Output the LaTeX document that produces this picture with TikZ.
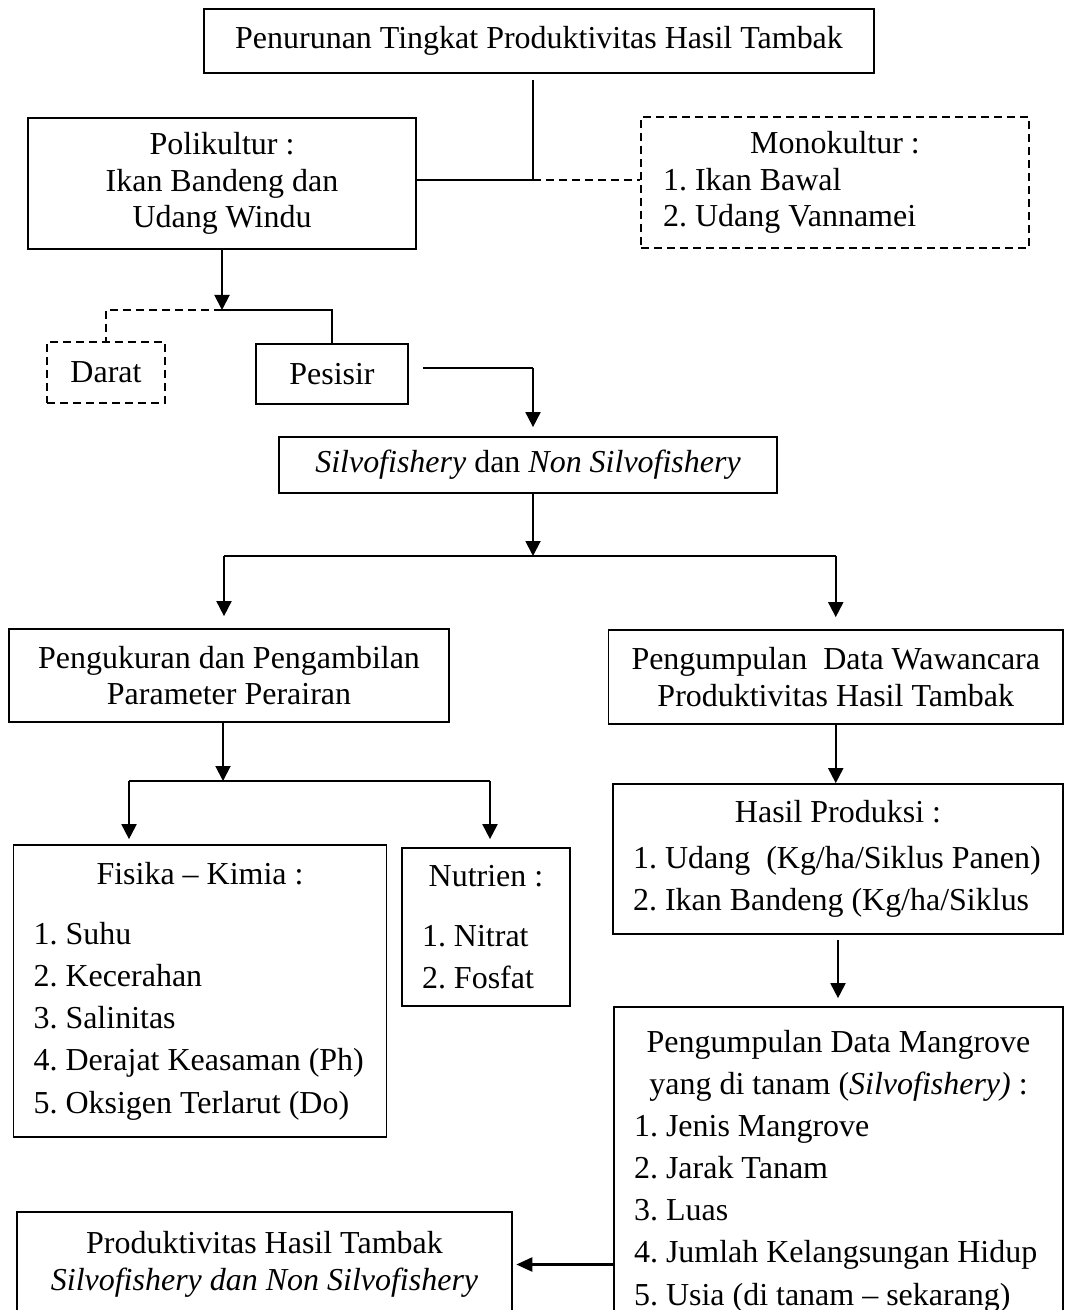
\documentclass[tikz,border=0pt]{standalone}
\usepackage{fontspec}
\setmainfont{Liberation Serif}
\usetikzlibrary{arrows.meta}
\setlength{\parindent}{0pt}
\setlength{\parskip}{0pt}
\frenchspacing

\begin{document}
\begin{tikzpicture}[
  x=0.02cm, y=-0.02cm,
  box/.style={rectangle,draw=black,line width=1pt,inner sep=0pt,align=center,font=\fontsize{18.2pt}{20.8pt}\selectfont},
  dbox/.style={box,dash pattern=on 0.16cm off 0.1cm},
  listbox/.style={box,inner xsep=0.4cm,align=flush left,font=\fontsize{18.2pt}{24pt}\selectfont},
  link/.style={line width=0.6pt},
  dlink/.style={link,dash pattern=on 0.16cm off 0.1cm},
  arrow/.style={line width=1.1pt,-{Triangle[length=0.3cm,width=0.3cm]}},
  bigarrow/.style={line width=1.4pt,-{Triangle[length=0.32cm,width=0.28cm]}}
]
  \clip (0,0) rectangle (1064,1310);

  \node[box,minimum width=13.4cm,minimum height=1.28cm] (turun) at (539,41) {Penurunan Tingkat Produktivitas Hasil Tambak};
  \node[box,minimum width=7.76cm,minimum height=2.62cm] (poli) at (222,183.5) {Polikultur :\\Ikan Bandeng dan\\Udang Windu};
  \node[dbox,inner xsep=0.44cm,text width=6.88cm,align=flush left,minimum height=2.62cm] (mono) at (835,182.5) {{\centering Monokultur :\par}1. Ikan Bawal\\2. Udang Vannamei};
  \node[dbox,minimum width=2.36cm,minimum height=1.22cm] (darat) at (106,372.5) {Darat};
  \node[box,minimum width=3.04cm,minimum height=1.2cm] (pesisir) at (332,374) {Pesisir};
  \node[box,minimum width=9.96cm,minimum height=1.12cm] (silvo) at (528,465) {\textit{Silvofishery} dan \textit{Non Silvofishery}};
  \node[box,minimum width=8.8cm,minimum height=1.86cm] (ukur) at (229,675.5) {Pengukuran dan Pengambilan\\Parameter Perairan};
  \node[box,minimum width=9.09cm,minimum height=1.88cm] (kumpul) at (835.75,677) {Pengumpulan\ \ Data Wawancara\\Produktivitas Hasil Tambak};
  \node[listbox,text width=8.2cm,minimum height=3cm] (hasil) at (838,859) {{\centering Hasil Produksi :\par}\vspace{0.06cm}1. Udang\ \ (Kg/ha/Siklus Panen)\\2. Ikan Bandeng (Kg/ha/Siklus};
  \node[listbox,text width=6.66cm,minimum height=5.84cm] (fisika) at (200,991) {{\centering Fisika -- Kimia :\par}\vspace{0.36cm}1. Suhu\\2. Kecerahan\\3. Salinitas\\4. Derajat Keasaman (Ph)\\5. Oksigen Terlarut (Do)};
  \node[listbox,text width=2.56cm,minimum height=3.16cm] (nutrien) at (486,927) {{\centering Nutrien :\par}\vspace{0.36cm}1. Nitrat\\2. Fosfat};
  \node[listbox,text width=8.18cm,minimum height=6.56cm] (mangrove) at (838.5,1171) {{\centering Pengumpulan Data Mangrove\\yang di tanam (\textit{Silvofishery)} :\par}1. Jenis Mangrove\\2. Jarak Tanam\\3. Luas\\4. Jumlah Kelangsungan Hidup\\5. Usia (di tanam -- sekarang)};
  \node[box,minimum width=9.9cm,minimum height=2.1cm] (produk) at (264.5,1264.5) {Produktivitas Hasil Tambak\\\textit{Silvofishery dan Non Silvofishery}};

  \coordinate (spine) at (533,0);
  \coordinate (j1) at (533,180);
  \coordinate (j2) at (222,310);
  \coordinate (j3) at (533,368);
  \coordinate (j4) at (533,556);
  \coordinate (j5) at (223,781);

  % polikultur / monokultur
  \draw[link] ([yshift=-0.12cm]j1 |- turun.south) -- (j1);
  \draw[link] (poli.east |- j1) -- (j1);
  \draw[dlink] (j1) -- (mono.west |- j1);

  % darat / pesisir
  \draw[arrow] (poli.south) -- (j2);
  \draw[dlink] (j2) -| (darat.north);
  \draw[link] (j2) -| (pesisir.north);
  \draw[link] ([xshift=0.28cm]pesisir.east |- j3) -- (j3);
  \draw[arrow] (j3) -- ([yshift=0.18cm]spine |- silvo.north);

  % two branches
  \draw[arrow] (spine |- silvo.south) -- (j4);
  \draw[link] ([xshift=-0.1cm]ukur.north |- j4) -- (kumpul.north |- j4);
  \draw[arrow] ([xshift=-0.1cm]ukur.north |- j4) -- ([xshift=-0.1cm,yshift=0.24cm]ukur.north);
  \draw[arrow] (kumpul.north |- j4) -- ([yshift=0.24cm]kumpul.north);

  \draw[arrow] ([xshift=-0.12cm]ukur.south) -- (j5);
  \draw[link] ([xshift=-1.42cm]fisika.north |- j5) -- ([xshift=0.08cm]nutrien.north |- j5);
  \draw[arrow] ([xshift=-1.42cm]fisika.north |- j5) -- ([xshift=-1.42cm,yshift=0.1cm]fisika.north);
  \draw[arrow] ([xshift=0.08cm]nutrien.north |- j5) -- ([xshift=0.08cm,yshift=0.16cm]nutrien.north);

  \draw[arrow] (kumpul.south) -- (kumpul.south |- hasil.north);
  \draw[arrow] ([yshift=-0.1cm]hasil.south) -- ([yshift=0.16cm]hasil.south |- mangrove.north);
  \draw[bigarrow] (mangrove.west |- produk.east) -- ([xshift=0.07cm]produk.east);
\end{tikzpicture}
\end{document}
